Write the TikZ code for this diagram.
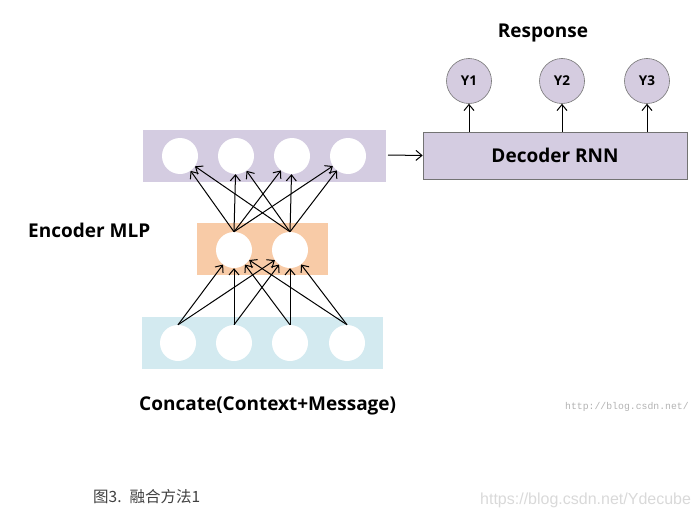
\documentclass[tikz,border=0pt]{standalone}
\usepackage{fontspec}
\setmainfont{Open Sans}
\newfontfamily\cjk{Noto Sans CJK SC}
\newfontfamily\wmono{Liberation Mono}
\newfontfamily\wsans{Liberation Sans}
\usetikzlibrary{arrows.meta}
\definecolor{bandpurple}{HTML}{D4CCE1}
\definecolor{bandorange}{HTML}{F8CBA7}
\definecolor{bandblue}{HTML}{D3EAF0}
\definecolor{ypurple}{HTML}{D5CCE0}
\begin{document}
\begin{tikzpicture}[x=1pt,y=-1pt,
  unit/.style={circle,fill=white,minimum size=36pt,inner sep=0pt},
  yout/.style={circle,fill=ypurple,draw=black!55,line width=0.6pt,minimum size=45pt,inner sep=0pt,font=\bfseries\fontsize{13.5}{15}\selectfont},
  conn/.style={-{Straight Barb[length=6pt,width=10pt]},line width=1pt},
  lbl/.style={font=\bfseries\fontsize{19}{22}\selectfont,inner sep=0pt}]
\useasboundingbox (0,0) rectangle (698,519);
% bands
\fill[bandpurple] (143,130) rectangle (386,182);
\fill[bandorange] (197,223) rectangle (328,275);
\fill[bandblue] (142,317) rectangle (383,369);
% units
\node[unit] (t1) at (180,156) {};
\node[unit] (t2) at (236,156) {};
\node[unit] (t3) at (292,156) {};
\node[unit] (t4) at (348,156) {};
\node[unit] (m1) at (234,250) {};
\node[unit] (m2) at (290,250) {};
\node[unit] (b1) at (178,343) {};
\node[unit] (b2) at (234,343) {};
\node[unit] (b3) at (290,343) {};
\node[unit] (b4) at (347,343) {};
% connections bottom -> middle
\foreach \s in {b1,b2,b3,b4}{
  \foreach \d in {m1,m2}{
    \draw[conn] (\s.north) -- (\d);
  }
}
% middle -> top
\foreach \s in {m1,m2}{
  \foreach \d in {t1,t2,t3,t4}{
    \draw[conn] (\s.north) -- (\d);
  }
}
% decoder
\node[draw=black!55,fill=bandpurple,line width=0.6pt,minimum width=264pt,minimum height=47pt,inner sep=0pt,font=\bfseries\fontsize{19}{22}\selectfont] (dec) at (555,155.5) {Decoder RNN};
\coordinate (bandr) at (388,155);
\draw[conn] (bandr) -- (dec.west);
\node[yout] (y1) at (469,81) {Y1};
\node[yout] (y2) at (562,81) {Y2};
\node[yout] (y3) at (647,81) {Y3};
\foreach \i in {1,2,3}{
  \coordinate (s\i) at (y\i |- dec.north);
  \draw[conn] (s\i) -- (y\i.south);
}
\node[lbl] (resp) at (543,33) {Response};
\node[lbl,anchor=west] (enc) at (28,230) {Encoder MLP};
\node[lbl,anchor=west] (cat) at (139,406) {Concate(Context+Message)};
\node[font=\wmono\fontsize{9.8}{11}\selectfont,text=black!30,anchor=west,inner sep=0pt] (wm1) at (565,407) {http://blog.csdn.net/};
\node[font=\cjk\fontsize{15.5}{18}\selectfont,text=black!75,anchor=west,inner sep=0pt] (cap) at (93,497) {图3.\hspace{8pt}融合方法1};
\node[font=\wsans\fontsize{16}{18}\selectfont,text=black!15,anchor=west,inner sep=0pt] (wm2) at (480,500) {https://blog.csdn.net/Ydecube};
\end{tikzpicture}
\end{document}
